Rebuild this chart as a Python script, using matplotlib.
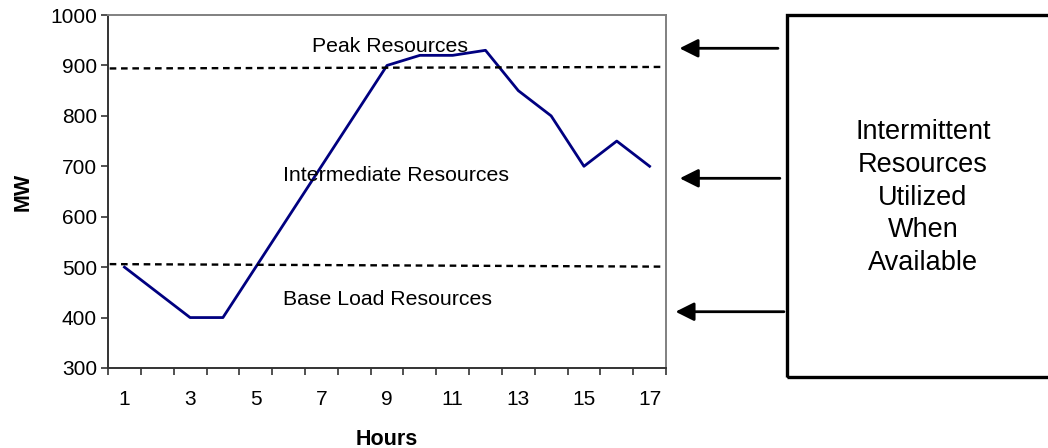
import matplotlib.pyplot as plt
from matplotlib.patches import Rectangle, FancyArrowPatch

plt.rcParams['font.family'] = ['Liberation Sans', 'DejaVu Sans']

hours = list(range(1, 18))
mw = [500, 450, 400, 400, 500, 600, 700, 800, 900, 920, 920, 930, 850, 800, 700, 750, 700]

# dispatch tiers, drawn as dashed dividers across the day
divider_x = [0.55, 17.4]
peak_divider = [894, 897]
base_divider = [506, 501]

tier_labels = ["Peak Resources", "Intermediate Resources", "Base Load Resources"]
tier_label_x = [6.7, 5.82, 5.82]
tier_label_y = [938, 682, 435]

box_text = "Intermittent\nResources\nUtilized\nWhen\nAvailable"

fig = plt.figure(figsize=(10.48, 4.48), dpi=100)
ax = fig.add_axes([0.1031, 0.1786, 0.5324, 0.7879])

ax.plot(hours, mw, color="#000080", lw=2.0)
ax.plot(divider_x, peak_divider, color="black", lw=1.7, ls=(0, (2.8, 2.0)))
ax.plot(divider_x, base_divider, color="black", lw=1.7, ls=(0, (2.8, 2.0)))

for txt, x, y in zip(tier_labels, tier_label_x, tier_label_y):
    ax.text(x, y, txt, fontsize=15.3, va="center", ha="left")

ax.set_xlim(0.5, 17.5)
ax.set_ylim(300, 1000)
ax.set_yticks(range(300, 1001, 100))
ax.set_xticks([h + 0.5 for h in range(0, 18)], minor=False)
ax.set_xticklabels([])
ax.set_xticks(hours[::2], minor=True)
ax.set_xticklabels([str(h) for h in hours[::2]], minor=True)
ax.tick_params(axis="x", which="major", direction="out", length=5, width=1.2, color="#333333")
ax.tick_params(axis="x", which="minor", length=0, pad=16, labelsize=15)
ax.tick_params(axis="y", direction="out", length=5, width=1.2, color="#333333", labelsize=15, pad=3)

ax.spines["left"].set_color("#333333")
ax.spines["bottom"].set_color("#333333")
ax.spines["top"].set_color("#808080")
ax.spines["right"].set_color("#808080")
for s in ax.spines.values():
    s.set_linewidth(1.4)

ax.set_xlabel("Hours", fontsize=15.5, fontweight="bold", labelpad=14)
ax.set_ylabel("MW", fontsize=15.5, fontweight="bold", labelpad=12)

# side box for intermittent resources, runs off the right edge
box = Rectangle((0.7507, 0.1585), 0.3, 0.808, transform=fig.transFigure,
                fill=False, lw=2.4, ec="black", clip_on=False)
fig.patches.append(box)
fig.text(0.8807, 0.559, box_text, ha="center", va="center", fontsize=19.5, linespacing=1.34)

arrow_y = [0.8922, 0.602, 0.3042]
arrow_tail = [0.745, 0.7468, 0.7507]
arrow_tip = [0.6457, 0.646, 0.6419]
for y, x0, x1 in zip(arrow_y, arrow_tail, arrow_tip):
    arr = FancyArrowPatch((x0, y), (x1, y), transform=fig.transFigure,
                          arrowstyle="-|>,head_length=0.8,head_width=0.4",
                          mutation_scale=14, lw=2.0, color="black")
    fig.patches.append(arr)

fig.savefig("out.png", dpi=100)
